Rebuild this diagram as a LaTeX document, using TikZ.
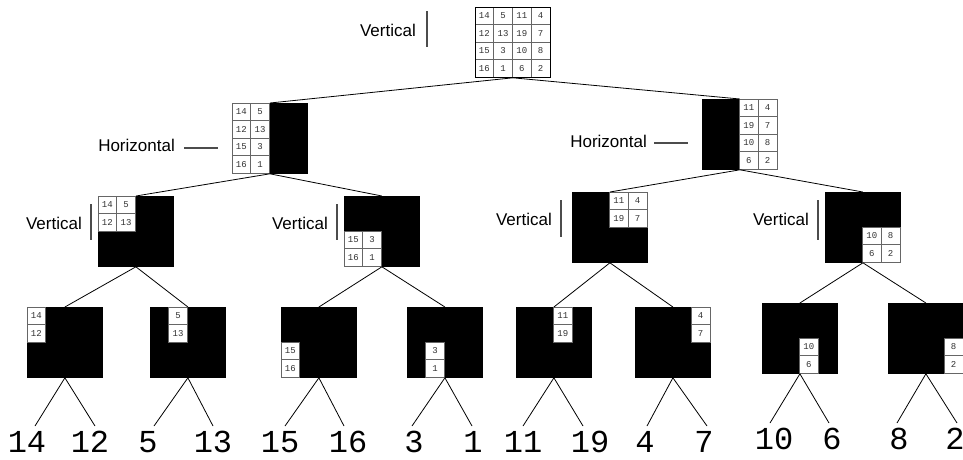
\documentclass[tikz,border=0pt]{standalone}
\usepackage{fontspec}
\setmainfont{Liberation Sans}
\newfontfamily\monof{Liberation Mono}
\usetikzlibrary{calc}

\tikzset{
  blk/.style={draw=black, fill=black, minimum width=75pt, minimum height=70pt,
    inner sep=0pt, anchor=north west, line width=0.8pt},
  grid/.style={blk, fill=white},
  cellbox/.style={draw=black!60, fill=white, minimum width=18.75pt,
    minimum height=17.5pt, inner sep=0pt, line width=0.7pt,
    font=\monof\fontsize{9}{9}\selectfont, text=black!80},
  edge/.style={draw=black, line width=0.8pt},
  leaf/.style={anchor=base, inner sep=0pt, font=\monof\fontsize{32}{32}\selectfont},
  split/.style={anchor=east, inner sep=0pt, font=\fontsize{17}{17}\selectfont},
  splitmark/.style={draw=black!70, line width=1.2pt}
}

% one numbered cell of a 4x4 block: block, column, row, value
\newcommand\cellat[4]{%
  \node[cellbox] (#1-#2-#3) at ($(#1.north west)+({#2*18.75+9.375},{#3*17.5+8.75})$) {#4};}

\begin{document}
\begin{tikzpicture}[x=1pt, y=-1pt]
\useasboundingbox (0,0) rectangle (963,459);

% ---- root block: the full 4x4 grid
\node[grid] (R) at (475,7) {};
\cellat{R}{0}{0}{14}\cellat{R}{1}{0}{5}\cellat{R}{2}{0}{11}\cellat{R}{3}{0}{4}
\cellat{R}{0}{1}{12}\cellat{R}{1}{1}{13}\cellat{R}{2}{1}{19}\cellat{R}{3}{1}{7}
\cellat{R}{0}{2}{15}\cellat{R}{1}{2}{3}\cellat{R}{2}{2}{10}\cellat{R}{3}{2}{8}
\cellat{R}{0}{3}{16}\cellat{R}{1}{3}{1}\cellat{R}{2}{3}{6}\cellat{R}{3}{3}{2}
\draw[line width=0.8pt] (R.north west) rectangle (R.south east);
\node[split] at (416,30) {Vertical};
\draw[splitmark] (427,11) -- (427,47);

% ---- level 1: vertical halves
\node[blk] (La) at (232,103) {};
\cellat{La}{0}{0}{14}\cellat{La}{1}{0}{5}
\cellat{La}{0}{1}{12}\cellat{La}{1}{1}{13}
\cellat{La}{0}{2}{15}\cellat{La}{1}{2}{3}
\cellat{La}{0}{3}{16}\cellat{La}{1}{3}{1}
\node[split] at (175,145) {Horizontal};
\draw[splitmark] (184,148) -- (218,148);

\node[blk] (Lb) at (702,99) {};
\cellat{Lb}{2}{0}{11}\cellat{Lb}{3}{0}{4}
\cellat{Lb}{2}{1}{19}\cellat{Lb}{3}{1}{7}
\cellat{Lb}{2}{2}{10}\cellat{Lb}{3}{2}{8}
\cellat{Lb}{2}{3}{6}\cellat{Lb}{3}{3}{2}
\node[split] at (647,141) {Horizontal};
\draw[splitmark] (654,143) -- (688,143);

\draw[edge] (R.south) -- (La.north);
\draw[edge] (R.south) -- (Lb.north);

% ---- level 2: quarters
\node[blk] (Qa) at (98,196) {};
\cellat{Qa}{0}{0}{14}\cellat{Qa}{1}{0}{5}
\cellat{Qa}{0}{1}{12}\cellat{Qa}{1}{1}{13}
\node[split] at (82,223) {Vertical};
\draw[splitmark] (91,204) -- (91,240);

\node[blk] (Qb) at (344,196) {};
\cellat{Qb}{0}{2}{15}\cellat{Qb}{1}{2}{3}
\cellat{Qb}{0}{3}{16}\cellat{Qb}{1}{3}{1}
\node[split] at (328,223) {Vertical};
\draw[splitmark] (337,204) -- (337,240);

\node[blk] (Qc) at (572,192) {};
\cellat{Qc}{2}{0}{11}\cellat{Qc}{3}{0}{4}
\cellat{Qc}{2}{1}{19}\cellat{Qc}{3}{1}{7}
\node[split] at (552,219) {Vertical};
\draw[splitmark] (561,200) -- (561,237);

\node[blk] (Qd) at (825,192) {};
\cellat{Qd}{2}{2}{10}\cellat{Qd}{3}{2}{8}
\cellat{Qd}{2}{3}{6}\cellat{Qd}{3}{3}{2}
\node[split] at (809,219) {Vertical};
\draw[splitmark] (818,200) -- (818,240);

\draw[edge] (La.south) -- (Qa.north);
\draw[edge] (La.south) -- (Qb.north);
\draw[edge] (Lb.south) -- (Qc.north);
\draw[edge] (Lb.south) -- (Qd.north);

% ---- level 3: pairs of cells
\node[blk] (A) at (27,307) {};  \cellat{A}{0}{0}{14}\cellat{A}{0}{1}{12}
\node[blk] (B) at (150,307) {}; \cellat{B}{1}{0}{5}\cellat{B}{1}{1}{13}
\node[blk] (C) at (281,307) {}; \cellat{C}{0}{2}{15}\cellat{C}{0}{3}{16}
\node[blk] (D) at (407,307) {}; \cellat{D}{1}{2}{3}\cellat{D}{1}{3}{1}
\node[blk] (E) at (516,307) {}; \cellat{E}{2}{0}{11}\cellat{E}{2}{1}{19}
\node[blk] (F) at (635,307) {}; \cellat{F}{3}{0}{4}\cellat{F}{3}{1}{7}
\node[blk] (G) at (762,303) {}; \cellat{G}{2}{2}{10}\cellat{G}{2}{3}{6}
\node[blk] (H) at (888,303) {}; \cellat{H}{3}{2}{8}\cellat{H}{3}{3}{2}

\draw[edge] (Qa.south) -- (A.north);
\draw[edge] (Qa.south) -- (B.north);
\draw[edge] (Qb.south) -- (C.north);
\draw[edge] (Qb.south) -- (D.north);
\draw[edge] (Qc.south) -- (E.north);
\draw[edge] (Qc.south) -- (F.north);
\draw[edge] (Qd.south) -- (G.north);
\draw[edge] (Qd.south) -- (H.north);

% ---- leaves: single values
\coordinate (a1) at (35,426);  \coordinate (a2) at (95,426);
\coordinate (b1) at (154,426); \coordinate (b2) at (213,426);
\coordinate (c1) at (285,426); \coordinate (c2) at (344,426);
\coordinate (d1) at (412,426); \coordinate (d2) at (472,426);
\coordinate (e1) at (523,426); \coordinate (e2) at (583,426);
\coordinate (f1) at (647,426); \coordinate (f2) at (707,426);
\coordinate (g1) at (770,423); \coordinate (g2) at (829,423);
\coordinate (h1) at (897,423); \coordinate (h2) at (957,423);

\foreach \b/\p in {A/a, B/b, C/c, D/d, E/e, F/f, G/g, H/h}{
  \draw[edge] (\b.south) -- (\p1);
  \draw[edge] (\b.south) -- (\p2);
}

\node[leaf] (v14) at (27,452)  {14};
\node[leaf] (v12) at (90,452)  {12};
\node[leaf] (v5)  at (148,452) {5};
\node[leaf] (v13) at (213,452) {13};
\node[leaf] (v15) at (280,452) {15};
\node[leaf] (v16) at (348,452) {16};
\node[leaf] (v3)  at (414,452) {3};
\node[leaf] (v1)  at (473,452) {1};
\node[leaf] (v11) at (523,452) {11};
\node[leaf] (v19) at (590,452) {19};
\node[leaf] (v4)  at (645,452) {4};
\node[leaf] (v7)  at (704,452) {7};
\node[leaf] (v10) at (774,449) {10};
\node[leaf] (v6)  at (832,449) {6};
\node[leaf] (v8)  at (899,449) {8};
\node[leaf] (v2)  at (955,449) {2};
\end{tikzpicture}
\end{document}
